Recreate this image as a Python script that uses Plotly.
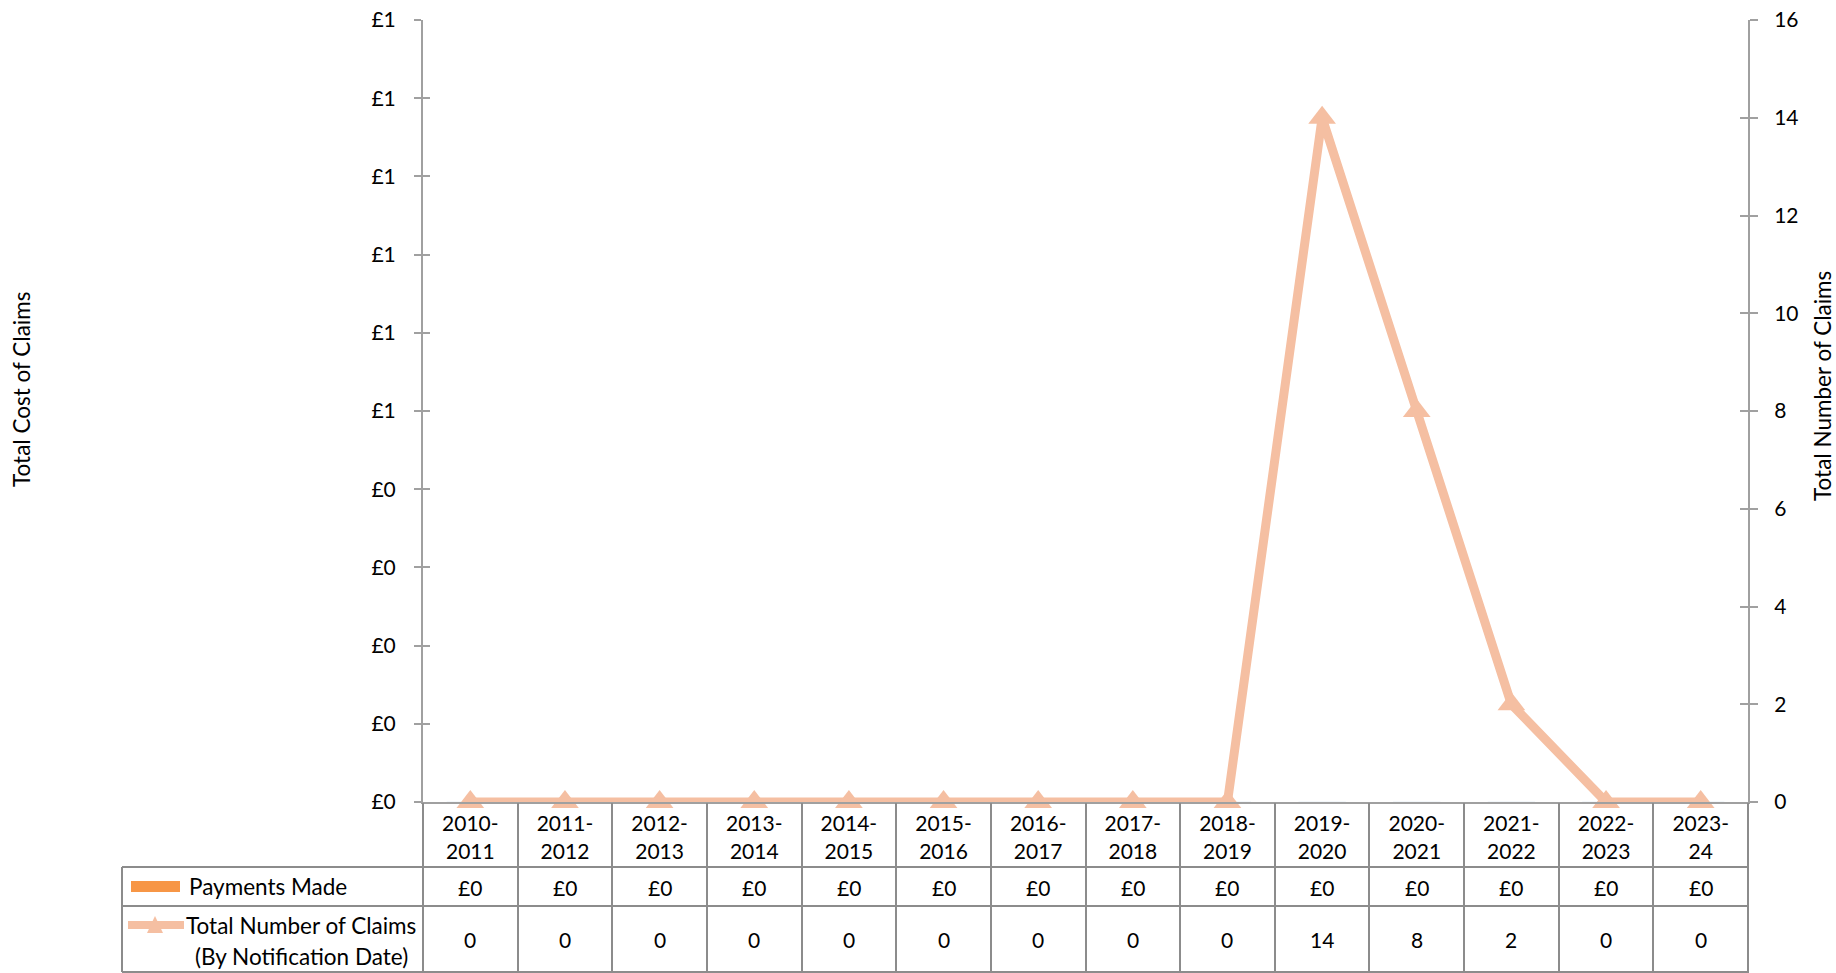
import plotly.graph_objects as go

# ---- data -------------------------------------------------------------
years = [
    "2010-2011", "2011-2012", "2012-2013", "2013-2014", "2014-2015",
    "2015-2016", "2016-2017", "2017-2018", "2018-2019", "2019-2020",
    "2020-2021", "2021-2022", "2022-2023", "2023-24",
]
year_labels = [
    "2010-<br>2011", "2011-<br>2012", "2012-<br>2013", "2013-<br>2014",
    "2014-<br>2015", "2015-<br>2016", "2016-<br>2017", "2017-<br>2018",
    "2018-<br>2019", "2019-<br>2020", "2020-<br>2021", "2021-<br>2022",
    "2022-<br>2023", "2023-<br>24",
]
payments_made = [0, 0, 0, 0, 0, 0, 0, 0, 0, 0, 0, 0, 0, 0]
claims_by_notification = [0, 0, 0, 0, 0, 0, 0, 0, 0, 14, 8, 2, 0, 0]

cost_ticks = [0, 0.1, 0.2, 0.3, 0.4, 0.5, 0.6, 0.7, 0.8, 0.9, 1.0]
cost_tick_labels = ["£0", "£0", "£0", "£0", "£0", "£1", "£1", "£1", "£1", "£1", "£1"]
count_ticks = [0, 2, 4, 6, 8, 10, 12, 14, 16]

# ---- styling ----------------------------------------------------------
W, H = 1836, 973
M_L, M_R, M_T, M_B = 423, 88, 20, 171
PLOT_W = W - M_L - M_R
PLOT_H = H - M_T - M_B

FONT = "Lato"
FS = 21          # numbers
FS_TEXT = 22.5   # words
PEACH = "#F5BFA2"
ORANGE = "#F79646"
AXIS_GREY = "#A0A0A0"
TABLE_GREY = "#8C8C8C"


def px_x(px):
    """Pixel column -> paper x."""
    return (px - M_L) / PLOT_W


def px_y(py):
    """Pixel row -> paper y."""
    return (H - M_B - py) / PLOT_H


def label(text, x, y, xref="paper", angle=0, xanchor="center", size=FS_TEXT):
    fig.add_annotation(text=text, xref=xref, yref="paper", x=x, y=y,
                       xanchor=xanchor, yanchor="middle", textangle=angle,
                       showarrow=False, font=dict(size=size))


fig = go.Figure()

fig.add_trace(go.Bar(
    x=years, y=payments_made, name="Payments Made",
    marker_color=ORANGE, yaxis="y", showlegend=False,
))
fig.add_trace(go.Scatter(
    x=years, y=claims_by_notification,
    name="Total Number of Claims (By Notification Date)",
    mode="lines+markers", yaxis="y2", cliponaxis=False,
    line=dict(color=PEACH, width=9),
    marker=dict(symbol="triangle-up", size=24, color=PEACH),
    showlegend=False,
))
# helper traces carrying the table dividers and the inner half of the ticks
fig.add_trace(go.Scatter(x=years, y=claims_by_notification, xaxis="x2", yaxis="y2",
                         mode="lines", opacity=0, hoverinfo="skip", showlegend=False))
fig.add_trace(go.Scatter(x=years, y=payments_made, yaxis="y3",
                         mode="lines", opacity=0, hoverinfo="skip", showlegend=False))
fig.add_trace(go.Scatter(x=years, y=claims_by_notification, yaxis="y4",
                         mode="lines", opacity=0, hoverinfo="skip", showlegend=False))

cat_range = [-0.5, len(years) - 0.5]

fig.update_layout(
    width=W, height=H,
    margin=dict(l=M_L, r=M_R, t=M_T, b=M_B, pad=0, autoexpand=False),
    paper_bgcolor="white", plot_bgcolor="white",
    font=dict(family=FONT, size=FS, color="#000000"),
    bargap=0.5,
    xaxis=dict(
        type="category", categoryorder="array", categoryarray=years,
        range=cat_range, tickvals=years, ticktext=year_labels,
        ticks="", showline=True, linecolor=AXIS_GREY, linewidth=2,
        showgrid=False, zeroline=False, tickfont=dict(size=FS),
        ticklabelstandoff=2, automargin=False,
    ),
    xaxis2=dict(
        type="category", categoryorder="array", categoryarray=years,
        range=cat_range, overlaying="x", side="bottom", anchor="y",
        tickson="boundaries", ticks="outside", ticklen=M_B,
        tickcolor=TABLE_GREY, tickwidth=2, showticklabels=False,
        showline=False, showgrid=False, zeroline=False, automargin=False,
    ),
    yaxis=dict(
        range=[0, 1], tickvals=cost_ticks, ticktext=cost_tick_labels,
        ticks="outside", ticklen=7, tickwidth=2, tickcolor=AXIS_GREY,
        showline=True, linecolor=AXIS_GREY, linewidth=2,
        showgrid=False, zeroline=False, ticklabelstandoff=14, automargin=False,
    ),
    yaxis2=dict(
        range=[0, 16], tickvals=count_ticks, overlaying="y", side="right",
        anchor="x", ticks="outside", ticklen=8, tickwidth=2, tickcolor=AXIS_GREY,
        showline=True, linecolor=AXIS_GREY, linewidth=2,
        showgrid=False, zeroline=False, ticklabelstandoff=12, automargin=False,
    ),
    yaxis3=dict(
        range=[0, 1], tickvals=cost_ticks, overlaying="y", side="left",
        anchor="x", ticks="inside", ticklen=7, tickwidth=2, tickcolor=AXIS_GREY,
        showticklabels=False, showline=False, showgrid=False, zeroline=False,
        automargin=False,
    ),
    yaxis4=dict(
        range=[0, 16], tickvals=count_ticks, overlaying="y", side="right",
        anchor="x", ticks="inside", ticklen=8, tickwidth=2, tickcolor=AXIS_GREY,
        showticklabels=False, showline=False, showgrid=False, zeroline=False,
        automargin=False,
    ),
)

# ---- axis titles ------------------------------------------------------
label("Total Cost of Claims", px_x(21), px_y(390), angle=-90)
label("Total Number of Claims", px_x(1823), px_y(386), angle=-90)

# ---- data table under the plot ----------------------------------------
TABLE_L = 122
ROW_TOP, ROW_MID, ROW_BOT = 867, 906, 972
shapes = []
for yy in (ROW_TOP, ROW_MID, ROW_BOT):
    shapes.append(dict(type="line", xref="paper", yref="paper",
                       x0=px_x(TABLE_L), x1=1.0, y0=px_y(yy), y1=px_y(yy),
                       line=dict(color=TABLE_GREY, width=2)))
shapes.append(dict(type="line", xref="paper", yref="paper",
                   x0=px_x(TABLE_L), x1=px_x(TABLE_L), y0=px_y(ROW_TOP), y1=px_y(ROW_BOT),
                   line=dict(color=TABLE_GREY, width=2)))

# legend keys
shapes.append(dict(type="rect", xref="paper", yref="paper",
                   x0=px_x(131), x1=px_x(180), y0=px_y(892), y1=px_y(881),
                   fillcolor=ORANGE, line=dict(width=0)))
shapes.append(dict(type="line", xref="paper", yref="paper",
                   x0=px_x(128), x1=px_x(184), y0=px_y(925), y1=px_y(925),
                   line=dict(color=PEACH, width=8)))
tri = "M {} {} L {} {} L {} {} Z".format(
    px_x(147), px_y(933), px_x(155), px_y(916), px_x(163), px_y(933))
shapes.append(dict(type="path", xref="paper", yref="paper", path=tri,
                   fillcolor=PEACH, line=dict(width=0)))
fig.update_layout(shapes=shapes)

label("Payments Made", px_x(187), px_y(886), xanchor="left")
label("Total Number of Claims", px_x(301), px_y(925))
label("(By Notification Date)", px_x(301), px_y(956))

for yr, pay, cnt in zip(years, payments_made, claims_by_notification):
    label(f"£{pay:,.0f}", yr, px_y(887), xref="x", size=FS)
    label(str(cnt), yr, px_y(939), xref="x", size=FS)

fig.write_html("out.html")
